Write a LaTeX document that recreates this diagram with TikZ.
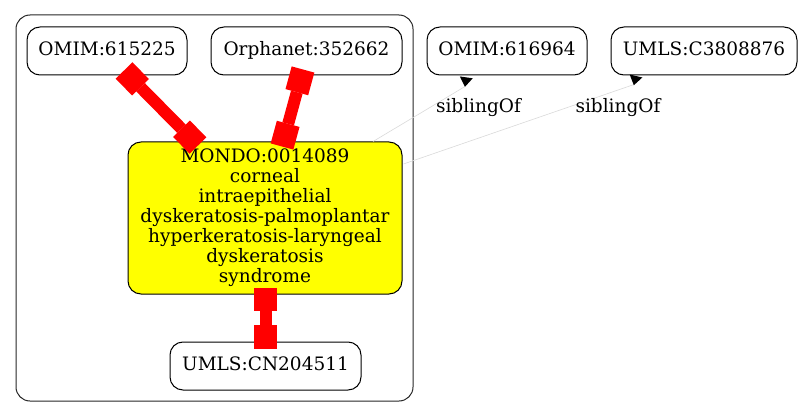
\documentclass[tikz,border=0pt]{standalone}
\usepackage{fontspec}
\setmainfont{DejaVu Serif}
\usetikzlibrary{arrows.meta,calc}
\definecolor{ylw}{RGB}{255,255,0}
\definecolor{rd}{RGB}{255,0,0}
\begin{document}
\begin{tikzpicture}[x=1pt,y=-1pt,
  box/.style={draw=black, line width=1pt, rounded corners=13pt, inner sep=0pt, align=center,
    font=\fontsize{18.5}{20}\selectfont},
  one/.style={box, minimum height=48pt, text height=14pt, text depth=4.6pt},
  redge/.style={draw=rd, line width=12pt,
    {Square[length=23.5pt,width=23.5pt,line width=0pt]}-{Square[length=23.5pt,width=23.5pt,line width=0pt]}},
  sib/.style={draw=black!15, line width=0.6pt,
    -{Triangle[reversed,length=9.5pt,width=13pt,color=black,line width=0pt]}},
  lbl/.style={font=\fontsize{18.5}{20}\selectfont, inner sep=0pt, anchor=base}
]
\useasboundingbox (0,0) rectangle (803,417);

\node[draw=black!85, line width=1pt, rounded corners=14pt, minimum width=397pt,
  minimum height=386pt, inner sep=0pt] (cluster) at (214.5,208) {};

\node[one, minimum width=160pt] (omimA) at (107,51) {OMIM:615225};
\node[one, minimum width=191pt] (orph) at (306.5,51) {Orphanet:352662};
\node[one, minimum width=160pt] (omimB) at (507,51) {OMIM:616964};
\node[one, minimum width=186pt] (umlsA) at (704,51) {UMLS:C3808876};
\node[box, fill=ylw, minimum width=274pt, minimum height=152pt] (mondo) at (265,218)
  {MONDO:0014089\\corneal\\intraepithelial\\dyskeratosis-palmoplantar\\hyperkeratosis-laryngeal\\dyskeratosis\\syndrome};
\node[one, minimum width=191pt] (umlsB) at (265.5,366) {UMLS:CN204511};

\draw[redge] ([shift={(17,-5)}]omimA.south) -- ([shift={(-67,4)}]mondo.north);
\draw[redge] ([shift={(-3.5,-6)}]orph.south) -- ([shift={(17,5)}]mondo.north);
\draw[redge] ([shift={(0.5,-7)}]mondo.south) -- ([shift={(0,7)}]umlsB.north);

\coordinate (a1) at ([shift={(-42,11)}]omimB.south);
\draw[sib] ([shift={(108,0)}]mondo.north) -- (a1) -- ([shift={(-40.7,1.9)}]omimB.south);
\coordinate (a2) at ([shift={(-70,9)}]umlsA.south);
\draw[sib] ([shift={(1,-54)}]mondo.east) -- (a2) -- ([shift={(-68,0.5)}]umlsA.south);

\node[lbl] (l1) at (478.5,112.7) {siblingOf};
\node[lbl] (l2) at (618,112.7) {siblingOf};
\end{tikzpicture}
\end{document}
